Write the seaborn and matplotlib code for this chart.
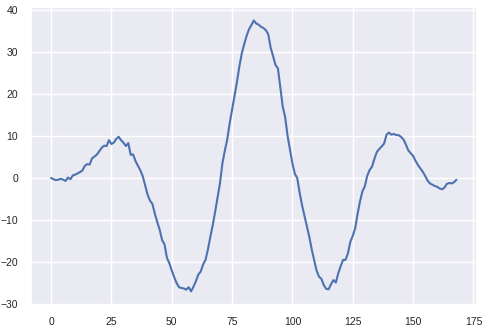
import numpy as np
import pandas as pd
import matplotlib
matplotlib.use("Agg")
import matplotlib.pyplot as plt
import seaborn as sns

values = [
    0.0, -0.3, -0.5, -0.4, -0.2, -0.4, -0.7, 0.1, -0.3, 0.6,
    0.8, 1.1, 1.4, 1.8, 2.9, 3.3, 3.2, 4.7, 5.1, 5.6,
    6.4, 7.2, 7.7, 7.6, 9.0, 8.1, 8.4, 9.3, 9.8, 9.0,
    8.4, 7.6, 8.3, 5.5, 5.6, 4.0, 2.9, 1.8, 0.4, -1.8,
    -4.0, -5.4, -6.2, -8.5, -10.5, -12.3, -14.8, -15.8, -19.0, -20.3,
    -22.0, -23.6, -25.0, -26.0, -26.2, -26.3, -26.6, -26.0, -27.0, -25.9,
    -24.6, -23.0, -22.3, -20.6, -19.5, -17.0, -14.0, -11.2, -8.0, -4.6,
    -1.2, 3.5, 6.5, 9.2, 13.0, 16.2, 19.5, 22.8, 26.5, 29.6,
    31.8, 33.8, 35.4, 36.4, 37.5, 36.8, 36.5, 36.0, 35.7, 35.2,
    34.2, 31.0, 29.0, 26.9, 26.1, 21.5, 17.0, 14.5, 10.0, 6.8,
    3.5, 1.0, 0.0, -3.5, -6.5, -9.0, -11.5, -14.0, -17.0, -19.5,
    -22.0, -23.5, -24.0, -25.5, -26.4, -26.5, -25.3, -24.3, -24.9, -22.7,
    -21.0, -19.5, -19.5, -18.0, -15.2, -13.8, -12.0, -8.6, -5.6, -3.2,
    -2.0, 0.5, 1.9, 2.7, 4.6, 6.2, 6.9, 7.5, 8.2, 10.3,
    10.8, 10.3, 10.5, 10.2, 10.2, 9.8, 9.2, 8.0, 6.6, 5.9,
    5.3, 4.1, 3.1, 2.3, 1.5, 0.5, -0.6, -1.3, -1.6, -1.9,
    -2.1, -2.5, -2.7, -2.3, -1.4, -1.2, -1.3, -1.0, -0.4,
]
steps = list(range(len(values)))

df = pd.DataFrame({"step": steps, "value": values})

sns.set_theme(style="darkgrid")
plt.rcParams["font.family"] = ["Liberation Sans", "DejaVu Sans"]

fig = plt.figure(figsize=(4.89, 3.30), dpi=100)
ax = fig.add_axes([0.063, 0.076, 0.912, 0.903])
sns.lineplot(data=df, x="step", y="value", ax=ax, color="#4C72B0", linewidth=1.5)
ax.set_xlabel("")
ax.set_ylabel("")
ax.set_xticks([0, 25, 50, 75, 100, 125, 150, 175])
ax.set_yticks([-30, -20, -10, 0, 10, 20, 30, 40])
ax.tick_params(labelsize=7.5, colors="#262626", pad=3)
fig.savefig("out.png", dpi=100)
